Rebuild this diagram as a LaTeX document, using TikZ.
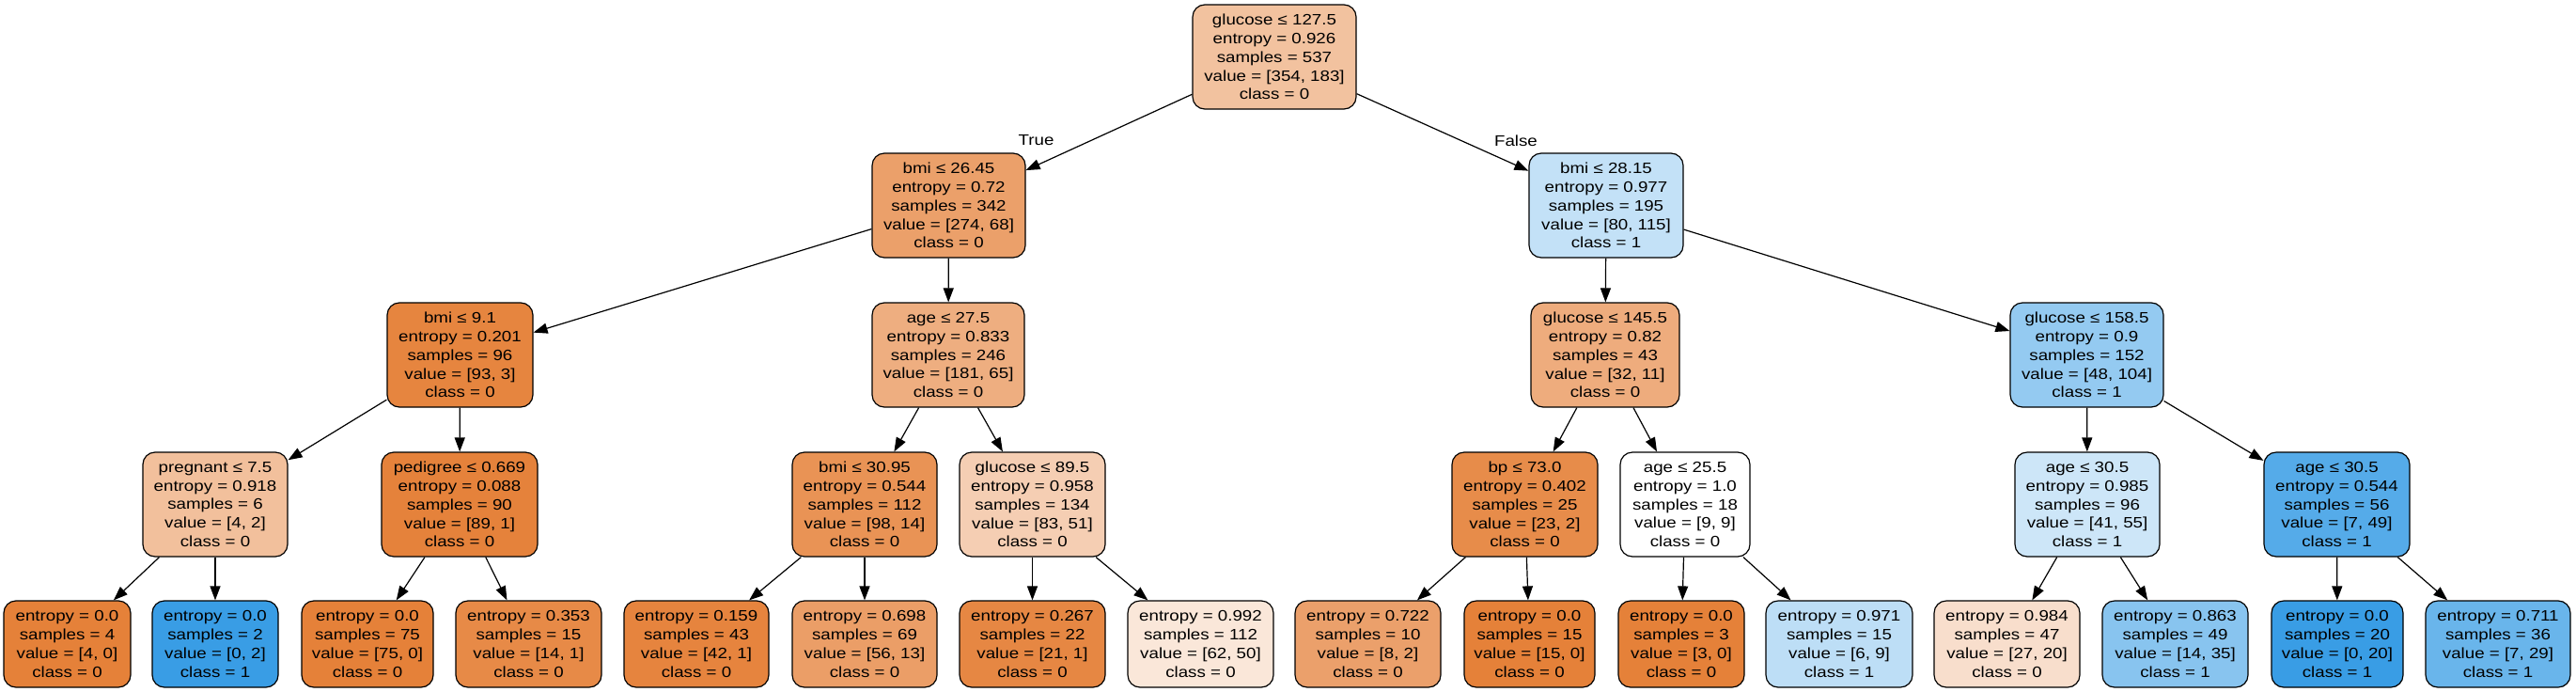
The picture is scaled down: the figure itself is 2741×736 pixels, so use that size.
\documentclass[tikz,border=0pt]{standalone}
\usepackage{fontspec}
\usetikzlibrary{arrows.meta}
\newfontfamily\nodefont{Liberation Sans}[FakeStretch=1.17]
\definecolor{czero}{RGB}{229,129,57}
\definecolor{cone}{RGB}{57,157,229}
\tikzset{
  tn/.style={draw=black, line width=1.2pt, rounded corners=13pt, align=center,
    font=\nodefont\fontsize{16}{19.8}\selectfont, inner sep=0pt, minimum height=111pt},
  leafbox/.style={tn, minimum height=92pt},
  conn/.style={-{Triangle[length=15pt,width=11pt]}, line width=1.2pt},
  edgelabel/.style={font=\nodefont\fontsize{16}{19.8}\selectfont, inner sep=0pt}
}
\begin{document}
\begin{tikzpicture}[x=1pt,y=-1pt]
\fill[white] (0,0) rectangle (2741,736);
\useasboundingbox (0,0) rectangle (2741,736);
% level 0
\node[tn, fill=czero!48.3!white, minimum width=174pt] (root) at (1356,60.5) {glucose ≤ 127.5\\entropy = 0.926\\samples = 537\\value = [354, 183]\\class = 0};
% level 1
\node[tn, fill=czero!75.2!white, minimum width=163pt] (n1) at (1009.5,218.5) {bmi ≤ 26.45\\entropy = 0.72\\samples = 342\\value = [274, 68]\\class = 0};
\node[tn, fill=cone!30.4!white, minimum width=164pt] (n2) at (1709,218.5) {bmi ≤ 28.15\\entropy = 0.977\\samples = 195\\value = [80, 115]\\class = 1};
% level 2
\node[tn, fill=czero!96.8!white, minimum width=155pt] (n3) at (489.5,377.5) {bmi ≤ 9.1\\entropy = 0.201\\samples = 96\\value = [93, 3]\\class = 0};
\node[tn, fill=czero!64.1!white, minimum width=162pt] (n4) at (1009,377.5) {age ≤ 27.5\\entropy = 0.833\\samples = 246\\value = [181, 65]\\class = 0};
\node[tn, fill=czero!65.6!white, minimum width=158pt] (n5) at (1708,377.5) {glucose ≤ 145.5\\entropy = 0.82\\samples = 43\\value = [32, 11]\\class = 0};
\node[tn, fill=cone!53.8!white, minimum width=163pt] (n6) at (2220.5,377.5) {glucose ≤ 158.5\\entropy = 0.9\\samples = 152\\value = [48, 104]\\class = 1};
% level 3
\node[tn, fill=czero!50!white, minimum width=154pt] (n7) at (229,536.5) {pregnant ≤ 7.5\\entropy = 0.918\\samples = 6\\value = [4, 2]\\class = 0};
\node[tn, fill=czero!98.9!white, minimum width=166pt] (n8) at (489,536.5) {pedigree ≤ 0.669\\entropy = 0.088\\samples = 90\\value = [89, 1]\\class = 0};
\node[tn, fill=czero!85.7!white, minimum width=154pt] (n9) at (920,536.5) {bmi ≤ 30.95\\entropy = 0.544\\samples = 112\\value = [98, 14]\\class = 0};
\node[tn, fill=czero!38.6!white, minimum width=155pt] (n10) at (1098.5,536.5) {glucose ≤ 89.5\\entropy = 0.958\\samples = 134\\value = [83, 51]\\class = 0};
\node[tn, fill=czero!91.3!white, minimum width=155pt] (n11) at (1622.5,536.5) {bp ≤ 73.0\\entropy = 0.402\\samples = 25\\value = [23, 2]\\class = 0};
\node[tn, fill=white, minimum width=138pt] (n12) at (1793,536.5) {age ≤ 25.5\\entropy = 1.0\\samples = 18\\value = [9, 9]\\class = 0};
\node[tn, fill=cone!25.5!white, minimum width=154pt] (n13) at (2221,536.5) {age ≤ 30.5\\entropy = 0.985\\samples = 96\\value = [41, 55]\\class = 1};
\node[tn, fill=cone!85.7!white, minimum width=155pt] (n14) at (2486.5,536.5) {age ≤ 30.5\\entropy = 0.544\\samples = 56\\value = [7, 49]\\class = 1};
% level 4 (leaves)
\node[leafbox, fill=czero, minimum width=135pt] (l1) at (71.5,685) {entropy = 0.0\\samples = 4\\value = [4, 0]\\class = 0};
\node[leafbox, fill=cone, minimum width=134pt] (l2) at (229,685) {entropy = 0.0\\samples = 2\\value = [0, 2]\\class = 1};
\node[leafbox, fill=czero, minimum width=140pt] (l3) at (391,685) {entropy = 0.0\\samples = 75\\value = [75, 0]\\class = 0};
\node[leafbox, fill=czero!92.9!white, minimum width=155pt] (l4) at (562.5,685) {entropy = 0.353\\samples = 15\\value = [14, 1]\\class = 0};
\node[leafbox, fill=czero!97.6!white, minimum width=154pt] (l5) at (741,685) {entropy = 0.159\\samples = 43\\value = [42, 1]\\class = 0};
\node[leafbox, fill=czero!76.8!white, minimum width=154pt] (l6) at (920,685) {entropy = 0.698\\samples = 69\\value = [56, 13]\\class = 0};
\node[leafbox, fill=czero!95.2!white, minimum width=155pt] (l7) at (1098.5,685) {entropy = 0.267\\samples = 22\\value = [21, 1]\\class = 0};
\node[leafbox, fill=czero!19.4!white, minimum width=155pt] (l8) at (1277.5,685) {entropy = 0.992\\samples = 112\\value = [62, 50]\\class = 0};
\node[leafbox, fill=czero!75!white, minimum width=155pt] (l9) at (1455.5,685) {entropy = 0.722\\samples = 10\\value = [8, 2]\\class = 0};
\node[leafbox, fill=czero, minimum width=139pt] (l10) at (1627.5,685) {entropy = 0.0\\samples = 15\\value = [15, 0]\\class = 0};
\node[leafbox, fill=czero, minimum width=134pt] (l11) at (1789,685) {entropy = 0.0\\samples = 3\\value = [3, 0]\\class = 0};
\node[leafbox, fill=cone!33.3!white, minimum width=156pt] (l12) at (1957,685) {entropy = 0.971\\samples = 15\\value = [6, 9]\\class = 1};
\node[leafbox, fill=czero!25.9!white, minimum width=155pt] (l13) at (2135.5,685) {entropy = 0.984\\samples = 47\\value = [27, 20]\\class = 0};
\node[leafbox, fill=cone!60!white, minimum width=155pt] (l14) at (2314.5,685) {entropy = 0.863\\samples = 49\\value = [14, 35]\\class = 1};
\node[leafbox, fill=cone, minimum width=140pt] (l15) at (2487,685) {entropy = 0.0\\samples = 20\\value = [0, 20]\\class = 1};
\node[leafbox, fill=cone!75.9!white, minimum width=154pt] (l16) at (2658,685) {entropy = 0.711\\samples = 36\\value = [7, 29]\\class = 1};
% edge labels
\node[edgelabel] (tlabel) at (1102.5,149) {True};
\node[edgelabel] (flabel) at (1613,150) {False};
% connectors
\draw[conn] (root) -- (n1);
\draw[conn] (root) -- (n2);
\draw[conn] (n1) -- (n3);
\draw[conn] (n1) -- (n4);
\draw[conn] (n2) -- (n5);
\draw[conn] (n2) -- (n6);
\draw[conn] (n3) -- (n7);
\draw[conn] (n3) -- (n8);
\draw[conn] (n4) -- (n9);
\draw[conn] (n4) -- (n10);
\draw[conn] (n5) -- (n11);
\draw[conn] (n5) -- (n12);
\draw[conn] (n6) -- (n13);
\draw[conn] (n6) -- (n14);
\draw[conn] (n7) -- (l1);
\draw[conn] (n7) -- (l2);
\draw[conn] (n8) -- (l3);
\draw[conn] (n8) -- (l4);
\draw[conn] (n9) -- (l5);
\draw[conn] (n9) -- (l6);
\draw[conn] (n10) -- (l7);
\draw[conn] (n10) -- (l8);
\draw[conn] (n11) -- (l9);
\draw[conn] (n11) -- (l10);
\draw[conn] (n12) -- (l11);
\draw[conn] (n12) -- (l12);
\draw[conn] (n13) -- (l13);
\draw[conn] (n13) -- (l14);
\draw[conn] (n14) -- (l15);
\draw[conn] (n14) -- (l16);
\end{tikzpicture}
\end{document}
